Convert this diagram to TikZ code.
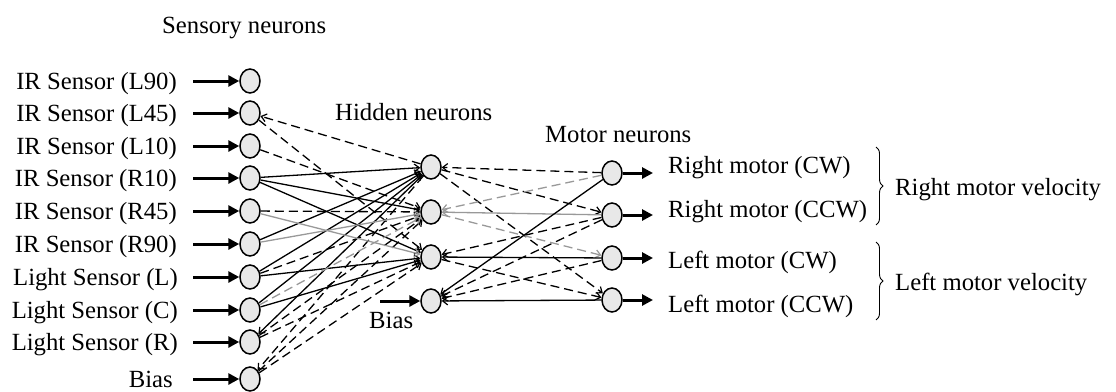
\documentclass[tikz,border=0pt]{standalone}
\usepackage{fontspec}
\setmainfont{Liberation Serif}
\usetikzlibrary{arrows.meta,shapes.geometric,decorations.pathreplacing}
\begin{document}
\begin{tikzpicture}[x=1pt,y=-1pt,
  neuron/.style={ellipse,draw,line width=1.5pt,fill=black!9,minimum width=20pt,minimum height=24pt,inner sep=0pt},
  lbl/.style={font=\fontsize{24.7}{28}\selectfont,inner sep=0pt},
  inarr/.style={line width=3pt,-{Triangle[length=11pt,width=11pt]}},
  con/.style={line width=1.3pt,-{Straight Barb[length=5pt,width=8pt,line width=1.2pt]}},
  dsh/.style={dash pattern=on 9pt off 5pt},
  gr/.style={color=black!40},
  brc/.style={decorate,decoration={brace,amplitude=7pt},line width=0.9pt}
]
\useasboundingbox (0,0) rectangle (1116,391);

% sensory neurons
\foreach \i/\y/\xt/\t in {1/81/177/IR Sensor (L90), 2/113/177/IR Sensor (L45), 3/146/177/IR Sensor (L10), 4/178/177/IR Sensor (R10), 5/211/177/IR Sensor (R45), 6/244/177/IR Sensor (R90), 7/277/178/Light Sensor (L), 8/310/178/Light Sensor (C), 9/342/178/Light Sensor (R), 10/379/173/Bias}{
  \node[neuron] (s\i) at (250,\y) {};
  \coordinate (i\i) at (193,\y);
  \node[lbl,anchor=base east] (t\i) at (\xt,\y+8) {\t};
  \draw[inarr] (i\i) -- (s\i);
}

% hidden neurons
\node[neuron] (h1) at (431,167) {};
\node[neuron] (h2) at (431,212) {};
\node[neuron] (h3) at (431,257) {};
\node[neuron] (h4) at (431,301) {};

% motor neurons
\foreach \i/\y in {1/173,2/215,3/258,4/300}{
  \node[neuron] (m\i) at (612,\y) {};
  \coordinate (o\i) at (653,\y);
  \draw[inarr] (m\i) -- (o\i);
}

% titles and labels
\node[lbl,anchor=base west] (ts) at (162,33) {Sensory neurons};
\node[lbl,anchor=base west] (th) at (335,120) {Hidden neurons};
\node[lbl,anchor=base west] (tm) at (545,142) {Motor neurons};
\node[lbl,anchor=base west] (tb) at (369,328) {Bias};
\coordinate (hb) at (380,301);
\draw[inarr] (hb) -- (h4);

\node[lbl,anchor=base west] (r1) at (668,173) {Right motor (CW)};
\node[lbl,anchor=base west] (r2) at (668,217) {Right motor (CCW)};
\node[lbl,anchor=base west] (r3) at (668,268) {Left motor (CW)};
\node[lbl,anchor=base west] (r4) at (668,312) {Left motor (CCW)};
\node[lbl,anchor=base west] (v1) at (895,195) {Right motor velocity};
\node[lbl,anchor=base west] (v2) at (895,290) {Left motor velocity};

\coordinate (rb1) at (876,147);
\coordinate (rb2) at (876,225);
\coordinate (lb1) at (876,242);
\coordinate (lb2) at (876,320);
\draw[brc] (rb1) -- (rb2);
\draw[brc] (lb1) -- (lb2);

% sensory - hidden
\draw[con] (s4) -- (h1);
\draw[con] (s4) -- (h2);
\draw[con] (s4) -- (h3);
\draw[con] (s6) -- (h1);
\draw[con] (s7) -- (h1);
\draw[con] (s7) -- (h3);
\draw[con] (s8) -- (h1);
\draw[con] (s8) -- (h3);
\draw[con] (h1) -- (s9);
\draw[con,dsh] (h1) -- (s2);
\draw[con,dsh] (s2) -- (h3);
\draw[con,dsh] (s3) -- (h2);
\draw[con,dsh] (s5) -- (h2);
\draw[con,dsh] (s7) -- (h2);
\draw[con,dsh] (s9) -- (h2);
\draw[con,dsh] (s9) -- (h3);
\draw[con,dsh] (h1) -- (s10);
\draw[con,dsh] (s10) -- (h2);
\draw[con,dsh] (s10) -- (h3);
\draw[con,gr] (s5) -- (h3);
\draw[con,gr] (s6) -- (h2);
\draw[con,gr,dsh] (s8) -- (h2);

% hidden - motor
\draw[con,dsh] (m1) -- (h1);
\draw[con,dsh] (h1) -- (m2);
\draw[con,dsh] (h1) -- (m4);
\draw[con,dsh] (m2) -- (h3);
\draw[con,dsh] (h3) -- (m4);
\draw[con,dsh] (m2) -- (h4);
\draw[con,dsh] (m3) -- (h4);
\draw[con,gr,dsh] (m1) -- (h2);
\draw[con,gr,dsh] (h2) -- (m3);
\draw[con,gr] (m2) -- (h2);
\draw[con] (m3) -- (h3);
\draw[con] (m1) -- (h4);
\draw[con] (m4) -- (h4);
\end{tikzpicture}
\end{document}
